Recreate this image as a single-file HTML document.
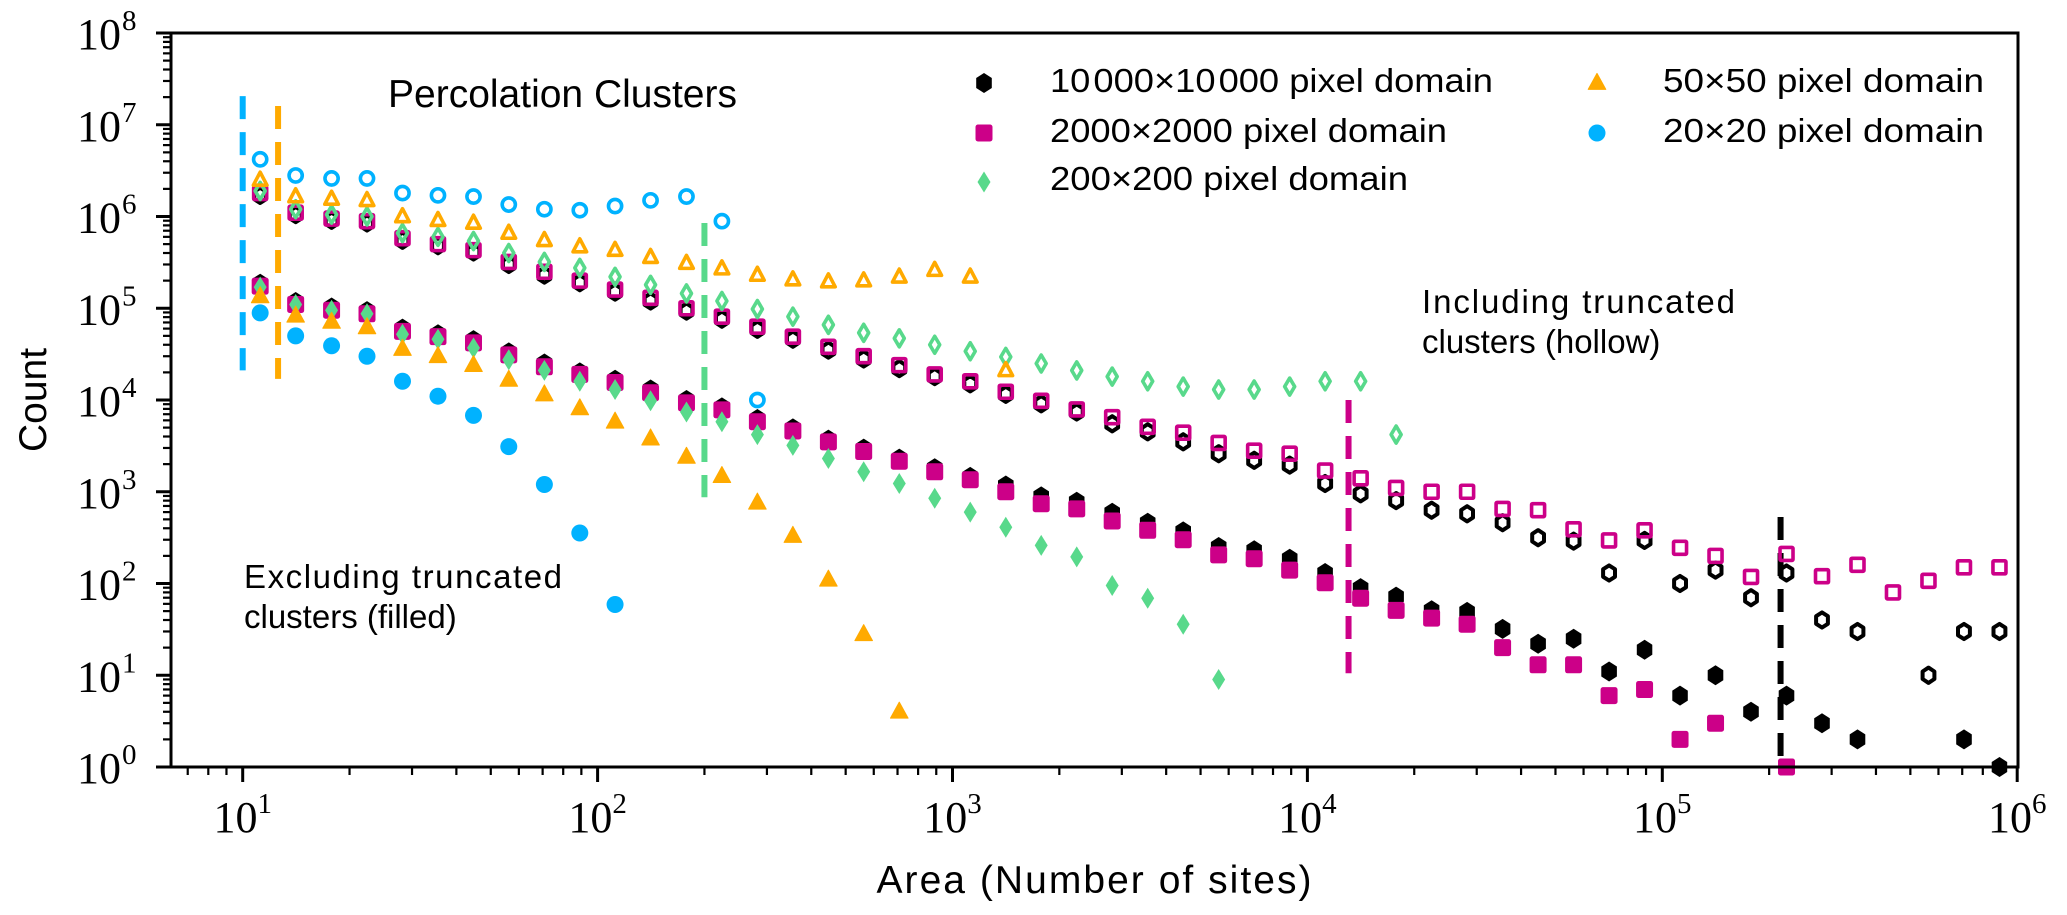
<!DOCTYPE html>
<html><head><meta charset="utf-8"><style>
html,body{margin:0;padding:0;background:#fff;}
svg{display:block;}
.sans{font-family:"Liberation Sans","DejaVu Sans",sans-serif;}
.serif{font-family:"Liberation Serif","DejaVu Serif",serif;}
</style></head><body>
<svg id="chart" width="2067" height="915" viewBox="0 0 2067 915" xmlns="http://www.w3.org/2000/svg">
<rect x="0" y="0" width="2067" height="915" fill="#fff"/>
<g id="marks"></g>
<g id="axes"></g>
<text class="sans" x="388" y="107" font-size="39">Percolation Clusters</text>
<text class="sans" x="1422" y="313" font-size="33" textLength="313">Including truncated</text>
<text class="sans" x="1422" y="353" font-size="33">clusters (hollow)</text>
<text class="sans" x="244" y="588" font-size="33" textLength="318">Excluding truncated</text>
<text class="sans" x="244" y="628" font-size="33">clusters (filled)</text>
<text class="sans" x="1094" y="893" font-size="39" text-anchor="middle" textLength="435">Area (Number of sites)</text>
<text class="sans" x="0" y="0" font-size="39" text-anchor="middle" transform="translate(46,400) rotate(-90)">Count</text>
<g id="legend"></g>
</svg>
<script>
const areas = [11.2,14.1,17.8,22.4,28.2,35.5,44.7,56.2,70.8,89.1,
112,141,178,224,282,355,447,562,708,891,
1122,1413,1778,2239,2818,3548,4467,5623,7079,8913,
11220,14125,17783,22387,28184,35481,44668,56234,70795,89125,
112202,141254,177828,223872,281838,354813,446684,562341,707946,891251];

const blackHollow = [1.7e6,1.05e6,9.1e5,8.5e5,5.5e5,4.8e5,4.1e5,3.0e5,2.3e5,1.9e5,
1.5e5,1.2e5,9.3e4,7.6e4,5.9e4,4.6e4,3.5e4,2.8e4,2.2e4,1.8e4,1.5e4,
11500,9100,7400,5500,4500,3500,2600,2200,1950,1230,950,800,630,575,460,316,290,130,295,100,140,70,130,40,30,null,10,30,30];
const blackFilled = [1.85e5,1.17e5,1.02e5,9.3e4,6.0e4,5.2e4,4.5e4,3.3e4,2.5e4,2.0e4,
16600,13000,10000,8300,6200,4900,3700,2950,2300,1800,1450,
1170,890,780,590,460,370,250,230,186,130,89,72,51,49,32,22,25,11,19,6,10,4,6,3,2,null,null,2,1];
const magentaHollow = [1.8e6,1.1e6,9.5e5,8.9e5,5.8e5,5.0e5,4.3e5,3.2e5,2.5e5,2.0e5,
1.6e5,1.3e5,1.0e5,8.1e4,6.3e4,4.9e4,3.8e4,3.0e4,2.4e4,1.9e4,1.6e4,
12300,9800,7900,6500,5100,4400,3400,2800,2600,1700,1400,1100,1000,1000,650,630,390,295,380,245,200,118,210,120,160,80,107,150,150];
const magentaFilled = [1.74e5,1.1e5,9.5e4,8.7e4,5.6e4,4.9e4,4.2e4,3.1e4,2.3e4,1.9e4,
15500,12000,9300,7800,5800,4600,3500,2750,2150,1650,1350,
1000,740,650,480,380,300,205,186,140,102,69,51,42,36,20,13,13,6,7,2,3,null,1];
const greenHollow = [1.9e6,1.2e6,1.05e6,1.0e6,6.6e5,6.0e5,5.4e5,4.0e5,3.2e5,2.75e5,
2.2e5,1.8e5,1.45e5,1.2e5,9.8e4,8.1e4,6.6e4,5.4e4,4.7e4,4.0e4,3.4e4,
29500,25000,21000,18000,16000,14000,13000,13000,14000,16000,16000,4200];
const greenFilled = [1.7e5,1.1e5,9.5e4,8.7e4,5.2e4,4.6e4,3.7e4,2.75e4,2.1e4,1.6e4,
13000,9800,7400,5800,4200,3200,2300,1650,1230,850,600,
410,260,195,95,69,36,9];
const orangeHollow = [2.5e6,1.65e6,1.55e6,1.5e6,1.0e6,9.1e5,8.5e5,6.6e5,5.5e5,4.7e5,
4.3e5,3.6e5,3.1e5,2.7e5,2.3e5,2.05e5,1.95e5,2.0e5,2.2e5,2.6e5,2.2e5,2.1e4];
const orangeFilled = [1.35e5,8.3e4,7.1e4,6.2e4,3.6e4,3.0e4,2.4e4,16600,11500,8100,5800,3800,2400,1480,760,330,110,28,4];
const blueHollow = [4.2e6,2.8e6,2.6e6,2.6e6,1.8e6,1.7e6,1.65e6,1.35e6,1.2e6,1.17e6,1.3e6,1.5e6,1.65e6,8.9e5,1.0e4];
const blueFilled = [8.9e4,5.0e4,3.9e4,3.0e4,1.6e4,1.1e4,6800,3100,1200,355,59];

const cutoffX = [10, 12.58, 200, 13060, 215400];
const cutoffTop = [2.05e7, 1.6e7, 8.5e5, 1.0e4, 530];
const cutoffBottom = [2.1e4, 1.7e4, 870, 10.5, 1.3];

const legendLabels = ["10\u200a000\u00d710\u200a000 pixel domain","2000\u00d72000 pixel domain","200\u00d7200 pixel domain","50\u00d750 pixel domain","20\u00d720 pixel domain"];
const xTickExps = [1,2,3,4,5,6];
const yTickExps = [0,1,2,3,4,5,6,7,8];

const C = {black:"#000000", magenta:"#cc0088", green:"#58d98b", orange:"#ffaa00", blue:"#00b2ff"};
const NS = "http://www.w3.org/2000/svg";
const L = Math.log10;
function X(v){ return 242.7 + 354.9*(L(v)-1); }
function Y(v){ return 767 - 91.75*L(v); }
function mk(tag, attrs, parent){
  const e = document.createElementNS(NS, tag);
  for (const k in attrs) e.setAttribute(k, attrs[k]);
  parent.appendChild(e);
  return e;
}
const marks = document.getElementById('marks');
const axes = document.getElementById('axes');
const legend = document.getElementById('legend');

function shape(kind, cx, cy, color, hollow, parent){
  let e;
  const fill = hollow ? "none" : color;
  const sw = hollow ? 3.6 : 0;
  if (kind === 'hex'){
    const r = hollow ? 7.6 : 10;
    let p = [];
    for (let i=0;i<6;i++){ const a = Math.PI/2 + i*Math.PI/3; p.push((cx+r*0.9*Math.cos(a)).toFixed(1)+","+(cy-r*Math.sin(a)).toFixed(1)); }
    e = mk('polygon', {points:p.join(" "), fill:fill, stroke:color, 'stroke-width':hollow?4:0, 'stroke-linejoin':'round'}, parent);
  } else if (kind === 'sq'){
    const s = hollow ? 13 : 17;
    e = mk('rect', {x:cx-s/2, y:cy-s/2, width:s, height:s, rx:hollow?1:2.5, fill:fill, stroke:color, 'stroke-width':sw}, parent);
  } else if (kind === 'dia'){
    const w = hollow ? 5 : 6.5, h = hollow ? 8.5 : 10.5;
    e = mk('polygon', {points:`${cx},${cy-h} ${cx+w},${cy} ${cx},${cy+h} ${cx-w},${cy}`, fill:fill, stroke:color, 'stroke-width':sw, 'stroke-linejoin':'round'}, parent);
  } else if (kind === 'tri'){
    const w = hollow ? 6.8 : 8.8, h = hollow ? 13 : 16;
    e = mk('polygon', {points:`${cx},${cy-h*0.6} ${cx+w},${cy+h*0.4} ${cx-w},${cy+h*0.4}`, fill:fill, stroke:color, 'stroke-width':hollow?3.6:1, 'stroke-linejoin':'round'}, parent);
  } else {
    e = mk('circle', {cx:cx, cy:cy, r:hollow?6.6:8.5, fill:fill, stroke:color, 'stroke-width':sw}, parent);
  }
  return e;
}

function series(vals, kind, color, hollow, name){
  const g = mk('g', {}, marks);
  
  
  vals.forEach((v,i)=>{
    if (v === null) return;
    const e = shape(kind, X(areas[i]), Y(v), color, hollow, g);
    
    
  });
}

const dashColors = [C.blue, C.orange, C.green, C.magenta, C.black];
const dashNames = ['cutoff-line-20', 'cutoff-line-50', 'cutoff-line-200', 'cutoff-line-2000', 'cutoff-line-10000'];
cutoffX.forEach((xv,i)=>{
  const ln = mk('line', {x1:X(xv), x2:X(xv), y1:Y(cutoffTop[i]), y2:Y(cutoffBottom[i]), stroke:dashColors[i], 'stroke-width':6, 'stroke-dasharray':'23 13'}, marks);
  
  
});

series(blackHollow, 'hex', C.black, true, 'series-10000-hollow');
series(blackFilled, 'hex', C.black, false, 'series-10000-filled');
series(magentaHollow, 'sq', C.magenta, true, 'series-2000-hollow');
series(magentaFilled, 'sq', C.magenta, false, 'series-2000-filled');
series(greenHollow, 'dia', C.green, true, 'series-200-hollow');
series(greenFilled, 'dia', C.green, false, 'series-200-filled');
series(orangeHollow, 'tri', C.orange, true, 'series-50-hollow');
series(orangeFilled, 'tri', C.orange, false, 'series-50-filled');
series(blueHollow, 'circ', C.blue, true, 'series-20-hollow');
series(blueFilled, 'circ', C.blue, false, 'series-20-filled');

const frame = mk('rect', {x:171, y:33, width:2018-171, height:767-33, fill:'none', stroke:'#000', 'stroke-width':3}, axes);



const xmin = Math.pow(10, 1 + (171-242.7)/354.9);
for (let d=0; d<6; d++){
  for (let m=1; m<10; m++){
    const v = m*Math.pow(10,d);
    if (v < xmin || v > 1e6) continue;
    const t = mk('line', {x1:X(v), x2:X(v), y1:767, y2:767+(m===1?15:8), stroke:'#000', 'stroke-width':m===1?3:2.2}, axes);
    
    
  }
}
const t6 = mk('line', {x1:X(1e6), x2:X(1e6), y1:767, y2:782, stroke:'#000', 'stroke-width':3}, axes);


xTickExps.forEach(ex=>{
  const t = mk('text', {x:X(Math.pow(10,ex)), y:832, 'text-anchor':'middle', 'font-size':44, class:'serif'}, axes);
  
  
  const a = mk('tspan', {}, t); a.textContent = '10';
  const b = mk('tspan', {dy:-19, 'font-size':29}, t); b.textContent = String(ex);
});
for (let d=0; d<8; d++){
  for (let m=1; m<10; m++){
    const v = m*Math.pow(10,d);
    const t = mk('line', {x1:171, x2:171-(m===1?15:8), y1:Y(v), y2:Y(v), stroke:'#000', 'stroke-width':m===1?3:2.2}, axes);
    
    
  }
}
const y8 = mk('line', {x1:171, x2:156, y1:Y(1e8), y2:Y(1e8), stroke:'#000', 'stroke-width':3}, axes);


yTickExps.forEach(ex=>{
  const yy = Y(Math.pow(10,ex));
  const t = mk('text', {x:121, y:yy+16, 'text-anchor':'end', 'font-size':44, class:'serif'}, axes);
  
  
  t.textContent = '10';
  const s = mk('text', {x:122, y:yy-3, 'font-size':29, class:'serif'}, axes);
  
  
  s.textContent = String(ex);
});

const legKinds = ['hex','sq','dia','tri','circ'];
const legColors = [C.black, C.magenta, C.green, C.orange, C.blue];
const legPos = [[984,83,1050,92,443],[984,133,1050,142,397],[984,182,1050,190,358],[1597,83,1663,92,321],[1597,133,1663,142,321]];
legendLabels.forEach((lab,i)=>{
  const p = legPos[i];
  const g = mk('g', {}, legend);
  
  
  const m = shape(legKinds[i], p[0], p[1], legColors[i], false, g);
  
  
  const t = mk('text', {x:p[2], y:p[3], 'font-size':33, class:'sans', textLength:p[4], lengthAdjust:'spacingAndGlyphs'}, g);
  
  
  t.textContent = lab;
});
</script>
</body></html>
